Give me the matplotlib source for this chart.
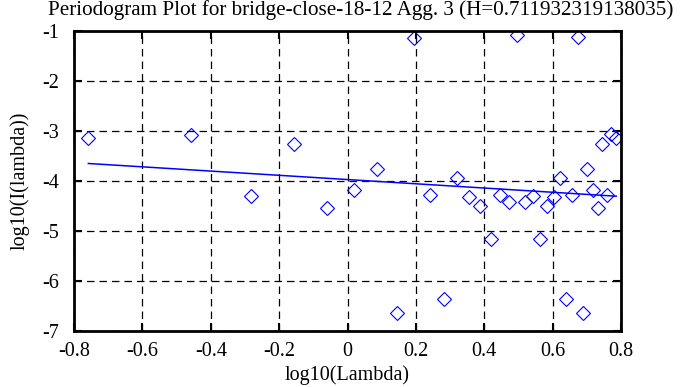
import matplotlib
matplotlib.use("Agg")
import matplotlib.pyplot as plt
import numpy as np

x_vals = [-0.758, -0.458, -0.283, -0.156, -0.061, 0.019, 0.085, 0.145, 0.195,
          0.242, 0.281, 0.319, 0.355, 0.387, 0.419, 0.446, 0.471, 0.497, 0.519,
          0.543, 0.564, 0.584, 0.603, 0.622, 0.639, 0.656, 0.674, 0.689, 0.702,
          0.719, 0.732, 0.745, 0.759, 0.772, 0.786]
y_vals = [-3.13, -3.08, -4.29, -3.25, -4.53, -4.18, -3.75, -6.63, -1.13,
          -4.27, -6.35, -3.93, -4.31, -4.49, -5.15, -4.28, -4.41, -1.08, -4.41,
          -4.29, -5.15, -4.49, -4.31, -3.93, -6.35, -4.27, -1.11, -6.63, -3.75,
          -4.17, -4.53, -3.25, -4.27, -3.06, -3.13]
fit_slope = -0.423864
fit_intercept = -3.971

x_ticks = [-0.8, -0.6, -0.4, -0.2, 0, 0.2, 0.4, 0.6, 0.8]
x_ticklabels = ["-0.8", "-0.6", "-0.4", "-0.2", "0", "0.2", "0.4", "0.6", "0.8"]
y_ticks = [-7, -6, -5, -4, -3, -2, -1]
y_ticklabels = ["-7", "-6", "-5", "-4", "-3", "-2", "-1"]

title = "Periodogram Plot for bridge-close-18-12 Agg. 3 (H=0.711932319138035)"

plt.rcParams['font.family'] = ['Liberation Serif', 'DejaVu Serif']

fig = plt.figure(figsize=(6.95, 3.87), dpi=100)
ax = fig.add_axes([74/695, 1-331/387, (621-74)/695, (331-31)/387])

ax.plot(x_vals, y_vals, linestyle='none', marker='D', markersize=7.0,
        markerfacecolor='none', markeredgecolor='#0000ff', markeredgewidth=0.8)
xl = np.array([x_vals[0], x_vals[-1]])
ax.plot(xl, fit_intercept + fit_slope * xl, color='#0000ff', linewidth=1.1)

ax.set_xlim(-0.8, 0.8)
ax.set_ylim(-7, -1)
ax.set_xticks(x_ticks)
ax.set_xticklabels(x_ticklabels)
ax.set_yticks(y_ticks)
ax.set_yticklabels(y_ticklabels)
ax.grid(True, color='black', linestyle=(0, (6, 4)), linewidth=0.9)
ax.tick_params(direction='in', length=6, width=1.5, top=True, right=True,
               labelsize=14.5)
ax.tick_params(axis='x', pad=8)
ax.tick_params(axis='y', pad=11)
for s in ax.spines.values():
    s.set_linewidth(2)

ax.set_xlabel("log10(Lambda)", fontsize=14.5, va='center')
ax.xaxis.set_label_coords(0.5, (331-375)/300)
ax.set_ylabel("log10(I(lambda))", fontsize=14.5, va='center')
ax.yaxis.set_label_coords((20-74)/547, 0.5)
fig.text(361/695, 1-10/387, title, fontsize=15.2, ha='center', va='center')

fig.savefig("out.png", dpi=100)
